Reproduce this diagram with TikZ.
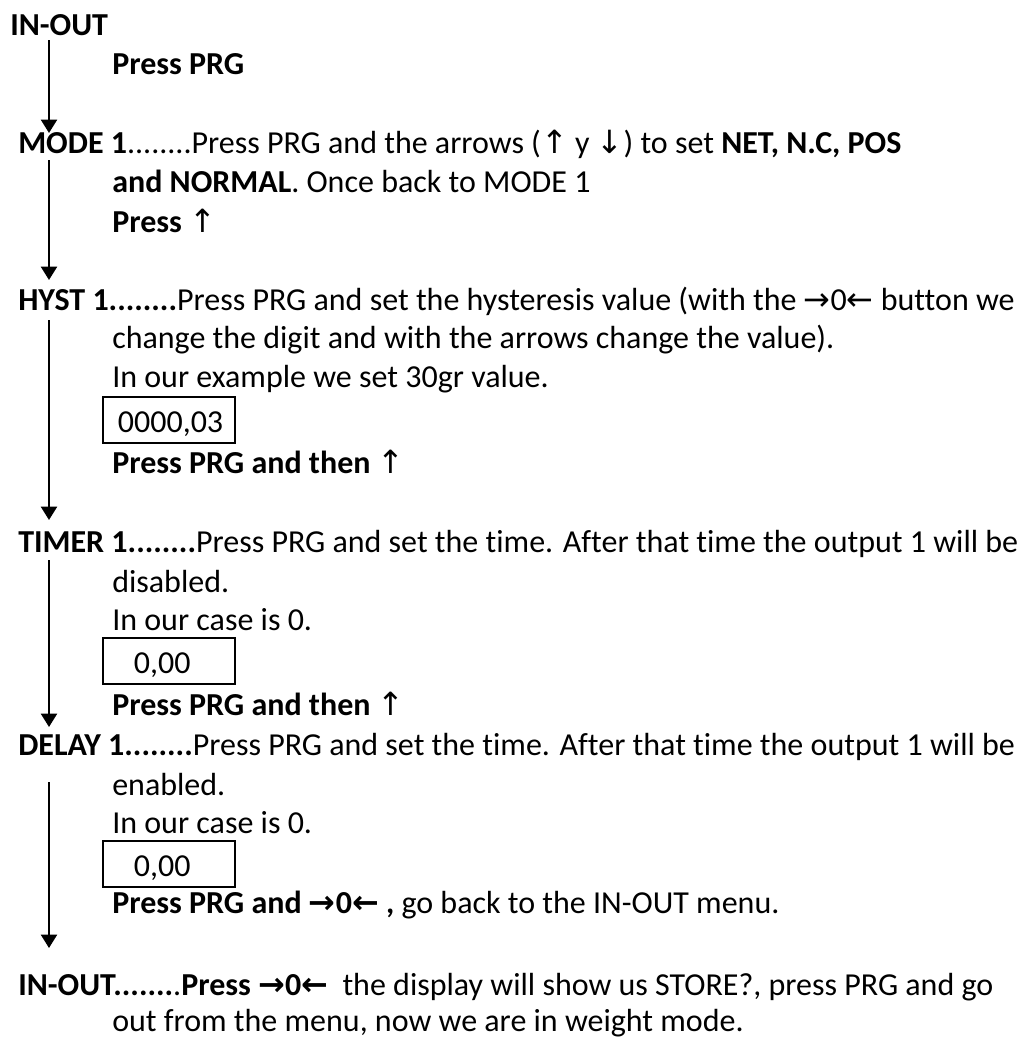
\documentclass[tikz,border=0pt]{standalone}
\usepackage{fontspec}
\setmainfont{Carlito}[Ligatures=CommonOff]
\newfontfamily\arrfont{DejaVu Sans}
\usetikzlibrary{arrows.meta}
\newcommand{\UpA}{{\arrfont\mdseries ↑}}
\newcommand{\DnA}{{\arrfont ↓}}
\newcommand{\ZeroKey}{{\arrfont →}0{\arrfont ←}}
\begin{document}
\begin{tikzpicture}[x=0.75pt,y=-0.75pt,
  font=\fontsize{24}{28}\selectfont,
  txt/.style={anchor=base west, inner sep=0pt},
  flow/.style={line width=1.6pt, -{Triangle[width=12pt,length=10pt]}},
  valbox/.style={draw, line width=1.3pt, anchor=base west, inner ysep=0pt,
    text height=26.25pt, text depth=8.25pt, align=left}]
\useasboundingbox (0,0) rectangle (1020,1039);

% top
\node[txt] (inout1) at (10,35) {\textbf{IN-OUT}};
\node[txt] (p1) at (112,74) {\textbf{Press PRG}};

% MODE 1
\node[txt] (mode) at (18,153) {\textbf{MODE 1}........Press PRG and the arrows (\UpA{} y \DnA) to set \textbf{NET, N.C, POS}};
\node[txt] (mode2) at (112,192) {\textbf{and NORMAL}. Once back to MODE 1};
\node[txt] (mode3) at (112,232) {\textbf{Press \UpA}};

% HYST 1
\node[txt] (hyst) at (18,310) {\textbf{HYST 1........}Press PRG and set the hysteresis value (with the \ZeroKey{} button we};
\node[txt] (hyst2) at (112,348) {change the digit and with the arrows change the value).};
\node[txt] (hyst3) at (112,387) {In our example we set 30gr value.};
\node[valbox, inner xsep=11.25pt, text width=76.5pt] (box1) at (102,432) {0000,03};
\node[txt] (hyst4) at (112,473) {\textbf{Press PRG and then \UpA}};

% TIMER 1
\node[txt] (timer) at (18,552) {\textbf{TIMER 1........}Press PRG and set the time. After that time the output 1 will be};
\node[txt] (timer2) at (112,592) {disabled.};
\node[txt] (timer3) at (112,630) {In our case is 0.};
\node[valbox, inner xsep=11.25pt, text width=76.5pt] (box2) at (102,673) {\hspace*{12pt}0,00};
\node[txt] (timer4) at (112,715) {\textbf{Press PRG and then \UpA}};

% DELAY 1
\node[txt] (delay) at (18,755) {\textbf{DELAY 1........}Press PRG and set the time. After that time the output 1 will be};
\node[txt] (delay2) at (112,795) {enabled.};
\node[txt] (delay3) at (112,833) {In our case is 0.};
\node[valbox, inner xsep=11.25pt, text width=76.5pt] (box3) at (102,876) {\hspace*{12pt}0,00};
\node[txt] (delay4) at (112,913) {\textbf{Press PRG and \ZeroKey{} ,} go back to the IN-OUT menu.};

% final IN-OUT
\node[txt] (inout2) at (18,995) {\textbf{IN-OUT.......}.\textbf{Press \ZeroKey}\ \ the display will show us STORE?, press PRG and go};
\node[txt] (inout3) at (112,1031) {out from the menu, now we are in weight mode.};

% connectors
\coordinate (s1) at (49,40);  \coordinate (e1) at (49,133);
\coordinate (s2) at (49,160); \coordinate (e2) at (49,280);
\coordinate (s3) at (49,320); \coordinate (e3) at (49,520);
\coordinate (s4) at (49,560); \coordinate (e4) at (49,727);
\coordinate (s5) at (49,782); \coordinate (e5) at (49,948);
\draw[flow] (s1) -- (e1);
\draw[flow] (s2) -- (e2);
\draw[flow] (s3) -- (e3);
\draw[flow] (s4) -- (e4);
\draw[flow] (s5) -- (e5);
\end{tikzpicture}
\end{document}
